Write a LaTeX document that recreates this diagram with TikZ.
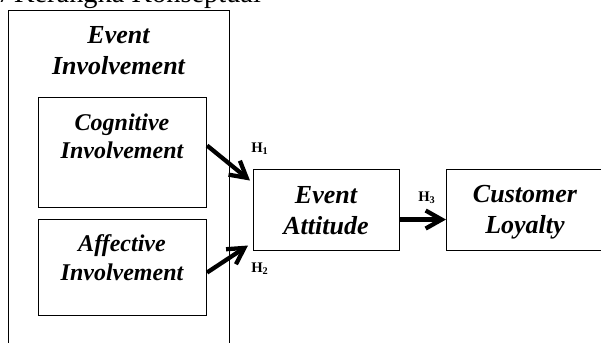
\documentclass[tikz,border=0pt]{standalone}
\usepackage{fontspec}
\setmainfont{Liberation Serif}
\usetikzlibrary{arrows.meta,calc}
\begin{document}
\begin{tikzpicture}[x=0.75pt,y=-0.75pt,
  box/.style={draw,line width=0.8pt,rectangle,inner sep=0pt,anchor=north west},
  big/.style={font=\fontsize{19.5}{23.2}\selectfont\bfseries\itshape,align=center,inner sep=0pt,anchor=base},
  small/.style={font=\fontsize{18}{21.2}\selectfont\bfseries\itshape,align=center,inner sep=0pt,anchor=base},
  hl/.style={font=\fontsize{11}{13}\selectfont\bfseries,inner sep=0pt,anchor=base west},
  arr/.style={line width=3.2pt,-{Straight Barb[length=12pt,width=13.5pt]}}]
\useasboundingbox (0,0) rectangle (601,343);
% cut-off heading
\node[font=\fontsize{21.3}{24}\selectfont,inner sep=0pt,anchor=base west] (head) at (-3,2) {7\hspace{2pt}Kerangka Konseptual};
% boxes
\node[box,minimum width=165.75pt,minimum height=262.5pt] (outer) at (8,10) {};
\node[box,minimum width=126pt,minimum height=82.5pt] (cog) at (38,97) {};
\node[box,minimum width=126pt,minimum height=72pt] (aff) at (38,219) {};
\node[box,minimum width=109.5pt,minimum height=60.75pt] (att) at (253,169) {};
\node[box,minimum width=120pt,minimum height=60.75pt] (loy) at (446,169) {};
% texts (anchored at the baseline of the last line)
\node[big] (outert) at (118.5,74) {Event\\Involvement};
\node[small] (cogt) at (122,158.3) {Cognitive\\Involvement};
\node[small] (afft) at (122,280) {Affective\\Involvement};
\node[big] (attt) at (326,234.3) {Event\\Attitude};
\node[big] (loyt) at (525,233) {Customer\\Loyalty};
% arrows
\draw[arr] ($(cog.east)+(0,-7)$) -- ($(att.west)+(-3,-29.5)$);
\draw[arr] ($(aff.east)+(0,5)$) -- ($(att.west)+(-5,35.5)$);
\draw[arr] ($(att.east)+(0,9.5)$) -- ($(loy.west)+(0,9.5)$);
% labels
\node[hl] (h1) at (251,152) {H\textsubscript{1}};
\node[hl] (h2) at (251,272) {H\textsubscript{2}};
\node[hl] (h3) at (418,201) {H\textsubscript{3}};
\end{tikzpicture}
\end{document}
